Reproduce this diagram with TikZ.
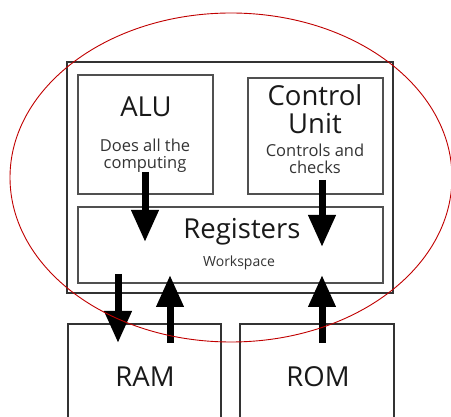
\documentclass[tikz,border=0pt]{standalone}
\usepackage{fontspec}
\setmainfont{Open Sans}
\usetikzlibrary{arrows.meta,shapes.geometric}
\definecolor{boxline}{HTML}{505050}
\definecolor{ringred}{HTML}{C00000}
\tikzset{
  box/.style={draw=boxline, line width=1.3pt, inner sep=0pt},
  title/.style={font=\fontsize{27.5}{28}\selectfont, text=black!90, inner sep=0pt, align=center},
  note/.style={font=\fontsize{16.5}{17}\selectfont, text=black!80, inner sep=0pt, align=center},
  flow/.style={line width=7pt, draw=black,
    -{Triangle[width=26pt,length=32pt]}, shorten >=0pt},
}
\begin{document}
\begin{tikzpicture}[x=1pt,y=-1pt]
  \useasboundingbox (0,0) rectangle (451,417);

  % processor frame and its three units
  \node[box, line width=1.7pt, draw=black!80, minimum width=326pt, minimum height=231pt] (cpu) at (230,177.5) {};
  \node[box, minimum width=135pt, minimum height=119pt] (alu) at (145.5,134.5) {};
  \node[box, minimum width=135pt, minimum height=116pt] (cu) at (315.5,136) {};
  \node[box, minimum width=305pt, minimum height=76pt] (reg) at (230.5,245) {};

  % memories below, running off the bottom edge
  \node[box, line width=1.7pt, draw=black!80, minimum width=153pt, minimum height=110pt, anchor=north west] (ram) at (67,323) {};
  \node[box, line width=1.7pt, draw=black!80, minimum width=154pt, minimum height=110pt, anchor=north west] (rom) at (239,323) {};

  % labels
  \node[title] (alut) at (146,107) {ALU};
  \node[note] (alun) at (145,156) {Does all the\\computing};
  \node[title] (cut) at (315,109) {Control\\Unit};
  \node[note] (cun) at (315,159) {Controls and\\checks};
  \node[title] (regt) at (242,232) {Registers};
  \node[note, font=\fontsize{14}{16}\selectfont] (regn) at (239,263) {Workspace};
  \node[title] (ramt) at (145,377) {RAM};
  \node[title] (romt) at (318,377) {ROM};

  % data paths
  \coordinate (a1) at (145,172);  \coordinate (a2) at (145,242);
  \coordinate (c1) at (322,180);  \coordinate (c2) at (322,247);
  \coordinate (r1) at (118,274);  \coordinate (r2) at (118,343);
  \coordinate (u1) at (170,343);  \coordinate (u2) at (170,275);
  \coordinate (o1) at (322,343);  \coordinate (o2) at (322,275);
  \draw[flow] (a1) -- (a2);
  \draw[flow] (c1) -- (c2);
  \draw[flow] (r1) -- (r2);
  \draw[flow] (u1) -- (u2);
  \draw[flow] (o1) -- (o2);

  % highlight ring round the processor
  \node[draw=ringred, line width=0.9pt, ellipse, minimum width=442pt, minimum height=329pt, inner sep=0pt] (ring) at (231,177.5) {};
\end{tikzpicture}
\end{document}
